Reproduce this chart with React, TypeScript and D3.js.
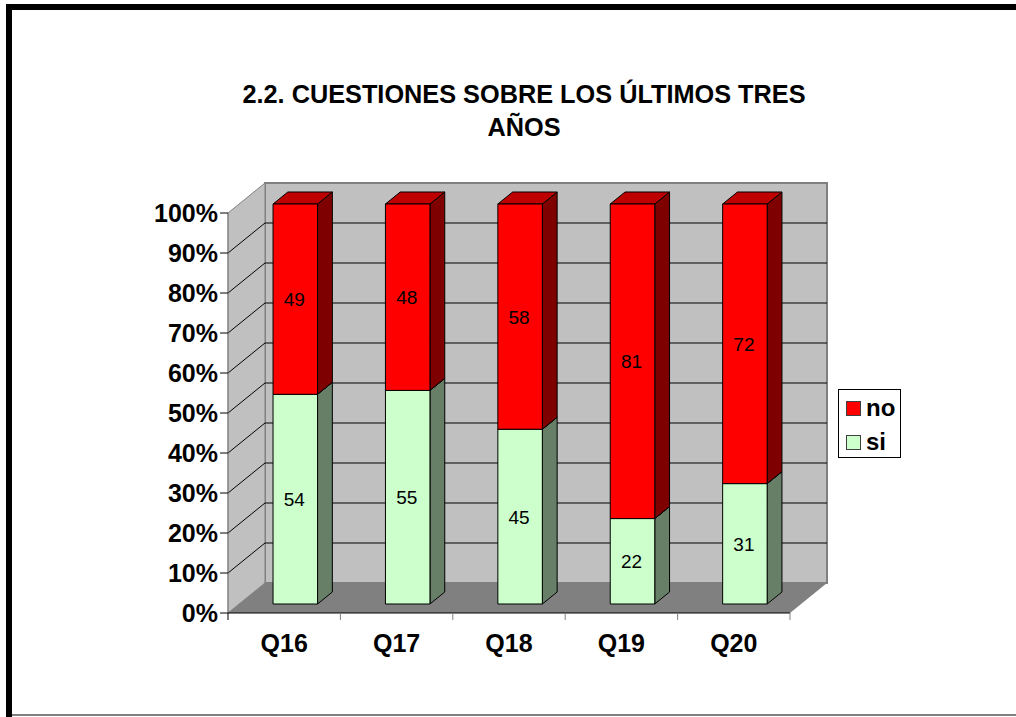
import React from 'react';
import { scaleBand, scaleLinear, range } from 'd3';

const categories = ['Q16', 'Q17', 'Q18', 'Q19', 'Q20'];
const siValues = [54, 55, 45, 22, 31];
const noValues = [49, 48, 58, 81, 72];
const percentTicks = [0, 10, 20, 30, 40, 50, 60, 70, 80, 90, 100];
const titleLines = ['2.2. CUESTIONES SOBRE LOS ÚLTIMOS TRES', 'AÑOS'];

const FONT = '"Liberation Sans", Arial, sans-serif';
const RED = '#ff0000';
const GREEN = '#ccffcc';

const x0 = 228;
const x1 = 790;
const y0 = 613;
const y1 = 213;
const depthX = 37;
const depthY = -30;

const xScale = scaleBand<string>().domain(categories).range([x0, x1]);
const yScale = scaleLinear().domain([0, 100]).range([y0, y1]);
const dx = scaleLinear().domain([0, 1]).range([0, depthX]);
const dy = scaleLinear().domain([0, 1]).range([0, depthY]);

const pts = (arr: number[][]) => arr.map((p) => p.join(',')).join(' ');

// a 3D box: front face plus top and right side
const Box = ({ x, w, top, bottom, zA, zB, fill, topFill, sideFill }: any) => {
  const fx = x + dx(zA);
  const fy = (v: number) => yScale(v) + dy(zA);
  const ox = dx(zB) - dx(zA);
  const oy = dy(zB) - dy(zA);
  return (
    <g stroke="#000" strokeWidth={1} strokeLinejoin="round">
      <polygon
        fill={sideFill}
        points={pts([
          [fx + w, fy(top)],
          [fx + w + ox, fy(top) + oy],
          [fx + w + ox, fy(bottom) + oy],
          [fx + w, fy(bottom)],
        ])}
      />
      <polygon
        fill={topFill}
        points={pts([
          [fx, fy(top)],
          [fx + ox, fy(top) + oy],
          [fx + w + ox, fy(top) + oy],
          [fx + w, fy(top)],
        ])}
      />
      <rect x={fx} y={fy(top)} width={w} height={fy(bottom) - fy(top)} fill={fill} />
    </g>
  );
};

const App = () => {
  const band = xScale.bandwidth();
  const barW = band * 0.396;
  const zA = 0.3;
  const zB = 0.7;
  return (
    <svg
      width={1016}
      height={717}
      style={{ position: 'absolute', left: 0, top: 0, fontFamily: FONT }}
    >
      <rect width={1016} height={717} fill="#fff" />
      {/* outer frame, runs off the right side */}
      <path d="M9 717 V7 H1016" fill="none" stroke="#000" strokeWidth={6} />
      <rect x={12} y={714} width={1004} height={2} fill="#808080" />

      {titleLines.map((t, i) => (
        <text key={t} x={524} y={102.5 + i * 33} textAnchor="middle" fontSize={25.3} fontWeight="bold" fill="#000">
          {t}
        </text>
      ))}

      {/* walls and floor */}
      <polygon
        fill="#c0c0c0"
        stroke="#808080"
        strokeWidth={2}
        points={pts([
          [x0 + depthX, y1 + depthY],
          [x1 + depthX, y1 + depthY],
          [x1 + depthX, y0 + depthY],
          [x0 + depthX, y0 + depthY],
        ])}
      />
      <polygon
        fill="#c0c0c0"
        stroke="#808080"
        strokeWidth={1}
        points={pts([
          [x0, y1],
          [x0 + depthX, y1 + depthY],
          [x0 + depthX, y0 + depthY],
          [x0, y0],
        ])}
      />
      <polygon
        fill="#808080"
        points={pts([
          [x0, y0],
          [x0 + depthX, y0 + depthY],
          [x1 + depthX, y0 + depthY],
          [x1, y0],
        ])}
      />

      {/* gridlines */}
      {percentTicks
        .filter((t) => t > 0 && t < 100)
        .map((t) => (
          <path
            key={t}
            d={`M${x0} ${yScale(t)} L${x0 + depthX} ${yScale(t) + depthY} H${x1 + depthX}`}
            fill="none"
            stroke="#000"
            strokeWidth={1}
          />
        ))}

      {/* bars */}
      {categories.map((c, i) => {
        const total = siValues[i] + noValues[i];
        const split = (siValues[i] / total) * 100;
        const x = xScale(c)! + (band - barW) / 2;
        return (
          <g key={c}>
            <Box x={x} w={barW} top={split} bottom={0} zA={zA} zB={zB} fill={GREEN} topFill="#99bf99" sideFill="#667f66" />
            <Box x={x} w={barW} top={100} bottom={split} zA={zA} zB={zB} fill={RED} topFill="#bf0000" sideFill="#7f0000" />
          </g>
        );
      })}

      {/* value labels */}
      {categories.map((c, i) => {
        const total = siValues[i] + noValues[i];
        const split = (siValues[i] / total) * 100;
        const cx = xScale(c)! + band / 2 + dx(zA) - 1;
        return (
          <g key={c} fontSize={19} textAnchor="middle" fill="#000">
            <text x={cx} y={yScale(split / 2) + dy(zA) + 7}>
              {siValues[i]}
            </text>
            <text x={cx} y={yScale((split + 100) / 2) + dy(zA) + 7}>
              {noValues[i]}
            </text>
          </g>
        );
      })}

      {/* y axis */}
      <path d={`M${x0} ${y1} V${y0}`} stroke="#808080" strokeWidth={1} fill="none" />
      {percentTicks.map((t) => (
        <g key={t}>
          <line x1={x0 - 8} x2={x0} y1={yScale(t)} y2={yScale(t)} stroke="#000" strokeWidth={1} />
          <text x={x0 - 10} y={yScale(t) + 9} textAnchor="end" fontSize={25} fontWeight="bold" fill="#000">
            {t}%
          </text>
        </g>
      ))}

      {/* x axis */}
      <line x1={x0} x2={x1} y1={y0} y2={y0} stroke="#000" strokeWidth={1} />
      {range(categories.length + 1).map((i) => (
        <line
          key={i}
          x1={x0 + i * band}
          x2={x0 + i * band}
          y1={y0}
          y2={y0 + 7}
          stroke={i === 0 ? '#000' : '#808080'}
          strokeWidth={1}
        />
      ))}
      {categories.map((c) => (
        <text key={c} x={xScale(c)! + band / 2} y={652} textAnchor="middle" fontSize={25} fontWeight="bold" fill="#000">
          {c}
        </text>
      ))}

      {/* legend */}
      <rect x={838.5} y={389.5} width={62} height={68} fill="#fff" stroke="#000" strokeWidth={1} />
      <rect x={846.5} y={401.5} width={14} height={14} fill={RED} stroke="#404040" strokeWidth={1} />
      <rect x={846.5} y={435.5} width={14} height={14} fill={GREEN} stroke="#404040" strokeWidth={1} />
      <text x={866} y={416} fontSize={24} fontWeight="bold" fill="#000">no</text>
      <text x={866} y={450} fontSize={24} fontWeight="bold" fill="#000">si</text>
    </svg>
  );
};

export default App;
